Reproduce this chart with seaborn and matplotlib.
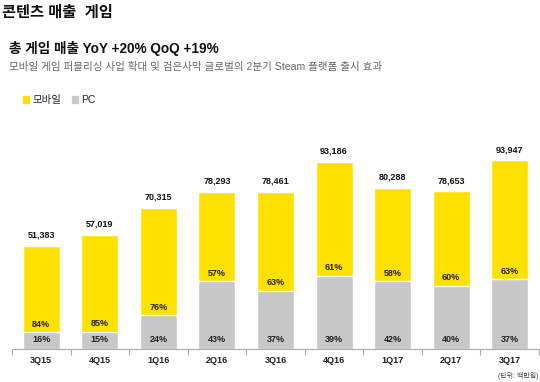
import matplotlib
matplotlib.use('Agg')
import matplotlib.pyplot as plt
from matplotlib.patches import Patch
import seaborn as sns
import pandas as pd

quarters = ['3Q15', '4Q15', '1Q16', '2Q16', '3Q16', '4Q16', '1Q17', '2Q17', '3Q17']
total = [51383, 57019, 70315, 78293, 78461, 93186, 80288, 78653, 93947]
mobile_pct = [84, 85, 76, 57, 63, 61, 58, 60, 63]
pc_pct = [16, 15, 24, 43, 37, 39, 42, 40, 37]

YELLOW = '#FFE100'
GRAY = '#C8C8C8'

sns.set_theme(style='white')
plt.rcParams['font.family'] = ['Liberation Sans', 'Noto Sans CJK KR', 'DejaVu Sans']

df = pd.DataFrame({'quarter': quarters, 'total': total,
                   'mobile_pct': mobile_pct, 'pc_pct': pc_pct})
df['pc'] = df['total'] * df['pc_pct'] / 100

fig = plt.figure(figsize=(5.4, 3.82), dpi=100)
ax = fig.add_axes([12 / 540, 33 / 382, 527 / 540, 200.7 / 382])

# total bar in yellow, PC share over it in gray
sns.barplot(data=df, x='quarter', y='total', color=YELLOW, width=0.63,
            saturation=1, ax=ax)
sns.barplot(data=df, x='quarter', y='pc', color=GRAY, width=0.63,
            saturation=1, ax=ax)

ax.set_xlim(-0.5, 8.5)
ax.set_ylim(0, 100000)
ax.set_xlabel('')
ax.set_ylabel('')
ax.set_yticks([])
for s in ['top', 'right', 'left']:
    ax.spines[s].set_visible(False)
ax.spines['bottom'].set_color('#AAAAAA')
ax.spines['bottom'].set_linewidth(0.8)

ax.set_xticks(range(len(quarters)))
ax.set_xticklabels(quarters, fontsize=6.5, fontweight='bold', color='#222222')
ax.set_xticks([i - 0.5 for i in range(len(quarters) + 1)], minor=True)
ax.tick_params(axis='x', which='major', length=0, pad=5)
ax.tick_params(axis='x', which='minor', length=4, width=0.8, color='#AAAAAA',
               direction='out', bottom=True)

for i, row in df.iterrows():
    ax.text(i, row['total'] + 3000, f"{row['total']:,}", ha='center', va='bottom',
            fontsize=6.5, fontweight='bold', color='#111111')
    ax.text(i, row['pc'] + 1800, f"{row['mobile_pct']}%", ha='center', va='bottom',
            fontsize=6.5, fontweight='bold', color='#222222')
    ax.text(i, 4500, f"{row['pc_pct']}%", ha='center', va='center',
            fontsize=6.5, fontweight='bold', color='#222222')

fig.text(0.004, 0.968, '콘텐츠 매출  게임', fontsize=11, fontweight='bold',
         color='#111111', va='center', ha='left')
fig.text(0.016, 0.873, '총 게임 매출 YoY +20% QoQ +19%', fontsize=9.8,
         fontweight='bold', color='#111111', va='center', ha='left')
fig.text(0.016, 0.825, '모바일 게임 퍼블리싱 사업 확대 및 검은사막 글로벌의 2분기 Steam 플랫폼 출시 효과',
         fontsize=7.6, color='#666666', va='center', ha='left')

handles = [Patch(color=YELLOW, label='모바일'), Patch(color=GRAY, label='PC')]
leg = fig.legend(handles=handles, loc='center left', bbox_to_anchor=(0.025, 0.737),
                 ncol=2, frameon=False, fontsize=7.5, handlelength=0.6,
                 handleheight=0.6, handletextpad=0.3, columnspacing=1.0)

fig.text(0.997, 0.004, '(단위: 백만원)', fontsize=5, color='#444444',
         ha='right', va='bottom')

fig.savefig('out.png', dpi=100)
